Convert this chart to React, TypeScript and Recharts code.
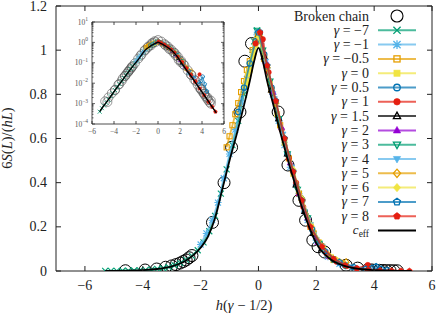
import React from "react"
import { ComposedChart, Scatter, XAxis, YAxis, ReferenceArea, Legend } from "recharts"

type Pt = [number, number]

// axis ticks
const xTicks = [-6, -4, -2, 0, 2, 4, 6]
const yTicks = [0, 0.2, 0.4, 0.6, 0.8, 1, 1.2]
const insetXTicks = [-6, -4, -2, 0, 2, 4, 6]
const insetDecades = [1e-4, 1e-3, 1e-2, 1e-1, 1, 10]
const insetExponents = ["−4", "−3", "−2", "−1", "0", "1"]
const minorSteps = [2, 3, 4, 5, 6, 7, 8, 9]

const gammaLabels = ["−7", "−1", "−0.5", "0", "0.5", "1", "1.5", "2", "3", "4", "5", "6", "7", "8"]

// broken chain points (open circles)
const brokenChain: Pt[] = [
  [-4.6, 0.0012], [-3.92, 0.0045], [-3.52, 0.009], [-3.21, 0.017], [-3.0, 0.023], [-2.85, 0.029],
  [-2.71, 0.036], [-2.6, 0.043], [-2.5, 0.05], [-2.4, 0.06], [-2.3, 0.07], [-1.59, 0.22],
  [-1.19, 0.4], [-0.93, 0.56], [-0.64, 0.72], [-0.47, 0.95], [-0.24, 1.03], [0.68, 0.72],
  [1.02, 0.48], [1.4, 0.32], [1.63, 0.23], [1.88, 0.14], [2.06, 0.11], [2.29, 0.086],
  [3.03, 0.026], [3.43, 0.013], [3.78, 0.006], [3.92, 0.0048], [4.05, 0.0038], [4.18, 0.003],
  [4.3, 0.0024], [4.42, 0.0019], [4.55, 0.0015], [4.68, 0.0012], [4.8, 0.001],
]

// extra broken chain sizes only shown in the log inset
const insetChain: Pt[] = [
  [-4.8, 0.0013], [-4.5, 0.002], [-4.2, 0.0032], [-3.9, 0.0048], [-3.6, 0.0085], [-3.3, 0.013],
  [-3.0, 0.022], [-2.7, 0.037], [-2.4, 0.06], [-2.1, 0.095], [-1.8, 0.16], [-1.5, 0.26],
  [-1.2, 0.42], [-0.9, 0.62], [-0.6, 0.88], [-0.3, 1.15], [0.0, 1.3], [0.3, 1.1], [0.6, 0.82],
  [0.9, 0.62], [1.2, 0.44], [1.5, 0.31], [1.8, 0.2], [2.1, 0.125], [2.4, 0.075], [2.7, 0.043],
  [3.0, 0.026], [3.3, 0.015], [3.6, 0.0085], [3.9, 0.0052], [4.2, 0.0031], [4.5, 0.002],
  [4.8, 0.0014],
]

// effective central charge curve
const cEff: Pt[] = [
  [-5.3, 0.0004], [-5, 0.0007], [-4.5, 0.0016], [-4, 0.0038], [-3.5, 0.009], [-3, 0.021],
  [-2.5, 0.048], [-2, 0.105], [-1.75, 0.155], [-1.5, 0.24], [-1.25, 0.37], [-1, 0.5],
  [-0.75, 0.62], [-0.5, 0.75], [-0.3, 0.86], [-0.15, 0.95], [0, 1.01], [0.15, 0.95],
  [0.3, 0.86], [0.5, 0.76], [0.75, 0.63], [1, 0.51], [1.25, 0.4], [1.5, 0.29], [1.75, 0.2],
  [2, 0.125], [2.5, 0.052], [3, 0.022], [3.5, 0.009], [4, 0.0037], [4.5, 0.0015], [5, 0.0006],
  [5.3, 0.00035],
]

const gM7: Pt[] = [
  [-5.3, 0.0004], [-5.1, 0.0006], [-4.9, 0.0008], [-4.7, 0.0011], [-4.5, 0.0016], [-4.3, 0.0023],
  [-4.1, 0.0032], [-3.9, 0.0046], [-3.7, 0.0065], [-3.5, 0.0092], [-3.3, 0.013], [-3.1, 0.018],
  [-2.9, 0.026], [-2.7, 0.036], [-2.5, 0.05], [-2.3, 0.068], [-2.1, 0.094], [-1.9, 0.13],
  [-1.7, 0.18], [-1.5, 0.25], [-1.3, 0.35], [-1.1, 0.46], [-0.9, 0.57], [-0.7, 0.68],
  [-0.5, 0.8], [-0.3, 0.93], [-0.15, 1.04], [-0.05, 1.09],
]
const gM1: Pt[] = [
  [-2.0, 0.12], [-1.8, 0.17], [-1.6, 0.23], [-1.4, 0.31], [-1.2, 0.42], [-1.0, 0.53], [-0.8, 0.64],
  [-0.6, 0.76], [-0.4, 0.87], [-0.2, 0.99], [-0.05, 1.07], [0.1, 1.04], [0.3, 0.92], [0.5, 0.8],
  [0.7, 0.68], [0.9, 0.57], [1.1, 0.47], [1.4, 0.35], [1.7, 0.23], [2.0, 0.14], [2.4, 0.065],
  [2.8, 0.032],
]
const gM05: Pt[] = [
  [-1.1, 0.56], [-1.0, 0.61], [-0.9, 0.66], [-0.8, 0.71], [-0.7, 0.76], [-0.6, 0.81], [-0.5, 0.86],
  [-0.4, 0.91], [-0.3, 0.95], [-0.2, 1.0], [-0.1, 1.04], [0.0, 1.07], [0.2, 0.96], [0.45, 0.82],
  [0.75, 0.66], [1.05, 0.51], [1.4, 0.35], [1.8, 0.2], [2.2, 0.11], [2.6, 0.05],
]
const g0: Pt[] = [
  [-0.45, 0.84], [-0.4, 0.86], [-0.35, 0.89], [-0.3, 0.91], [-0.25, 0.94], [-0.2, 0.97],
  [-0.15, 0.99], [-0.1, 1.02], [-0.05, 1.05], [0.05, 1.06], [0.2, 0.97], [0.4, 0.85], [0.65, 0.71],
  [0.9, 0.58], [1.2, 0.44], [1.5, 0.32], [1.8, 0.21], [2.1, 0.13], [2.5, 0.063],
]
const g05: Pt[] = [
  [-0.7, 0.72], [-0.5, 0.83], [-0.3, 0.94], [-0.1, 1.04], [0.05, 1.08], [0.2, 0.98], [0.45, 0.83],
  [0.7, 0.69], [1.0, 0.53], [1.3, 0.39], [1.6, 0.27], [1.9, 0.17], [2.2, 0.105], [2.6, 0.052],
  [3.0, 0.025],
]
const g1: Pt[] = [
  [-0.1, 1.03], [0.05, 1.08], [0.15, 1.05], [0.35, 0.9], [0.55, 0.78], [0.8, 0.64], [1.05, 0.51],
  [1.3, 0.4], [1.55, 0.29], [1.8, 0.2], [2.05, 0.135], [2.35, 0.08], [2.7, 0.042], [3.05, 0.022],
  [3.4, 0.012], [3.78, 0.027],
]
const g15: Pt[] = [
  [0.0, 1.07], [0.2, 0.97], [0.45, 0.82], [0.7, 0.69], [1.0, 0.53], [1.3, 0.39], [1.6, 0.27],
  [1.9, 0.17], [2.2, 0.1],
]
const g2: Pt[] = [
  [0.0, 1.08], [0.25, 0.95], [0.5, 0.81], [0.8, 0.65], [1.1, 0.49], [1.4, 0.35], [1.7, 0.24],
  [2.05, 0.13], [2.45, 0.065],
]
const g3: Pt[] = [
  [-0.05, 1.09], [0.15, 1.0], [0.4, 0.86], [0.7, 0.69], [1.0, 0.53], [1.35, 0.37], [1.7, 0.24],
  [2.1, 0.125], [2.55, 0.055], [3.0, 0.026],
]
const g4: Pt[] = [
  [0.0, 1.08], [0.25, 0.95], [0.55, 0.78], [0.85, 0.62], [1.15, 0.47], [1.45, 0.33], [1.8, 0.21],
  [2.2, 0.11], [2.7, 0.046], [3.2, 0.019],
]
const g5: Pt[] = [
  [0.0, 1.07], [0.3, 0.92], [0.6, 0.76], [0.9, 0.6], [1.2, 0.45], [1.5, 0.32], [1.9, 0.18],
  [2.4, 0.075], [3.03, 0.04],
]
const g6: Pt[] = [
  [0.0, 1.06], [0.3, 0.93], [0.6, 0.77], [0.9, 0.6], [1.2, 0.46], [1.5, 0.33], [1.85, 0.2],
  [2.25, 0.105], [2.7, 0.05],
]
const g7: Pt[] = [
  [0.0, 1.08], [0.3, 0.93], [0.6, 0.77], [0.9, 0.6], [1.2, 0.45], [1.5, 0.32], [1.85, 0.19],
  [2.3, 0.09], [2.8, 0.04], [3.3, 0.017], [3.7, 0.009], [3.92, 0.013], [4.07, 0.021], [4.25, 0.009],
  [4.45, 0.004],
]
const g8: Pt[] = [
  [0.05, 1.08], [0.3, 0.93], [0.6, 0.77], [0.9, 0.6], [1.2, 0.45], [1.5, 0.32], [1.8, 0.2],
  [2.2, 0.11], [2.6, 0.055], [3.0, 0.026], [3.4, 0.012], [3.8, 0.0055], [4.2, 0.0026], [4.6, 0.0012],
  [4.93, 0.0007], [5.22, 0.0004],
]

const GREEN = "#009e73"
const SKY = "#56b4e9"
const ORANGE = "#e69f00"
const YELLOW = "#f0e442"
const BLUE = "#0072b2"
const RED = "#e51e10"
const BLACK = "#000000"
const PURPLE = "#9400d3"

const gammaColors = [GREEN, SKY, ORANGE, YELLOW, BLUE, RED, BLACK, PURPLE, GREEN, SKY, ORANGE, YELLOW, BLUE, RED]
const gammaMarkers = ["cross", "star", "sqo", "sqf", "cio", "cif", "tro", "trf", "tdo", "tdf", "dio", "dif", "peo", "pef"]
const gammaData = [gM7, gM1, gM05, g0, g05, g1, g15, g2, g3, g4, g5, g6, g7, g8]

const toPts = (a: Pt[]) => a.map(([x, y]) => ({ x, y }))

const series = gammaLabels.map((label, i) => ({
  label,
  color: gammaColors[i],
  marker: gammaMarkers[i],
  data: toPts(gammaData[i]),
}))
const chainPts = toPts(brokenChain)
const insetChainPts = toPts([...insetChain, ...brokenChain])
const cEffPts = toPts(cEff)

const FONT = "Liberation Serif, Times New Roman, DejaVu Serif, serif"
const INK = "#222"
const txt = { fontFamily: FONT }

// plot box of the main chart, in svg pixels
const MAIN = { left: 56, right: 432, top: 6, bottom: 271 }
// plot box of the inset, in its own svg pixels
const INS = { left: 32, right: 164, top: 7, bottom: 109 }

const minus = (v: number) => (v < 0 ? "−" + Math.abs(v) : String(v))

function Marker({ kind, cx, cy, color, s, sw }: { kind: string; cx: number; cy: number; color: string; s: number; sw: number }) {
  if (cx == null || cy == null) return <g />
  const open = { fill: "none", stroke: color, strokeWidth: sw }
  const solid = { fill: color, stroke: color, strokeWidth: sw * 0.5 }
  const style = kind.endsWith("f") ? solid : open
  switch (kind) {
    case "cross":
      return <path d={`M${cx - s},${cy - s}L${cx + s},${cy + s}M${cx - s},${cy + s}L${cx + s},${cy - s}`} stroke={color} strokeWidth={sw} />
    case "star":
      return (
        <path
          d={`M${cx - s},${cy - s}L${cx + s},${cy + s}M${cx - s},${cy + s}L${cx + s},${cy - s}M${cx - s * 1.2},${cy}L${cx + s * 1.2},${cy}M${cx},${cy - s * 1.2}L${cx},${cy + s * 1.2}`}
          stroke={color}
          strokeWidth={sw}
        />
      )
    case "sqo":
    case "sqf": {
      const h = s * 0.85
      return <rect x={cx - h} y={cy - h} width={2 * h} height={2 * h} {...style} />
    }
    case "cio":
    case "cif":
      return <circle cx={cx} cy={cy} r={s * 0.9} {...style} />
    case "tro":
    case "trf":
      return <polygon points={`${cx},${cy - s * 1.1} ${cx + s},${cy + s * 0.7} ${cx - s},${cy + s * 0.7}`} {...style} />
    case "tdo":
    case "tdf":
      return <polygon points={`${cx},${cy + s * 1.1} ${cx + s},${cy - s * 0.7} ${cx - s},${cy - s * 0.7}`} {...style} />
    case "dio":
    case "dif":
      return <polygon points={`${cx},${cy - s * 1.15} ${cx + s},${cy} ${cx},${cy + s * 1.15} ${cx - s},${cy}`} {...style} />
    case "peo":
    case "pef": {
      const pts = [0, 1, 2, 3, 4]
        .map((k) => {
          const a = ((-90 + 72 * k) * Math.PI) / 180
          return `${cx + s * Math.cos(a)},${cy + s * Math.sin(a)}`
        })
        .join(" ")
      return <polygon points={pts} {...style} />
    }
    case "ring":
      return <circle cx={cx} cy={cy} r={s} fill="none" stroke={color} strokeWidth={sw} />
    default:
      return <g />
  }
}

function mainXTick(props: any) {
  const { x, payload } = props
  return (
    <g>
      <line x1={x} y1={MAIN.bottom} x2={x} y2={MAIN.bottom - 5} stroke={INK} />
      <line x1={x} y1={MAIN.top} x2={x} y2={MAIN.top + 5} stroke={INK} />
      <text x={x} y={MAIN.bottom + 18.5} textAnchor="middle" style={txt} fontSize={14} fill={INK}>
        {minus(payload.value)}
      </text>
    </g>
  )
}

function mainYTick(props: any) {
  const { y, payload } = props
  return (
    <g>
      <line x1={MAIN.left} y1={y} x2={MAIN.left + 5} y2={y} stroke={INK} />
      <line x1={MAIN.right} y1={y} x2={MAIN.right - 5} y2={y} stroke={INK} />
      <text x={MAIN.left - 9} y={y + 4.5} textAnchor="end" style={txt} fontSize={14} fill={INK}>
        {String(payload.value)}
      </text>
    </g>
  )
}

function insetXTick(props: any) {
  const { x, payload } = props
  return (
    <g>
      <line x1={x} y1={INS.bottom} x2={x} y2={INS.bottom - 3} stroke={INK} strokeWidth={0.8} />
      <line x1={x} y1={INS.top} x2={x} y2={INS.top + 3} stroke={INK} strokeWidth={0.8} />
      <text x={x} y={INS.bottom + 10} textAnchor="middle" style={txt} fontSize={7.5} fill="#555">
        {minus(payload.value)}
      </text>
    </g>
  )
}

function insetYTick(props: any) {
  const { y, payload } = props
  const idx = insetDecades.indexOf(payload.value)
  const len = idx >= 0 ? 3 : 1.5
  return (
    <g>
      <line x1={INS.left} y1={y} x2={INS.left + len} y2={y} stroke={INK} strokeWidth={0.7} />
      <line x1={INS.right} y1={y} x2={INS.right - len} y2={y} stroke={INK} strokeWidth={0.7} />
      {idx >= 0 && (
        <text x={INS.left - 4} y={y + 2.5} textAnchor="end" style={txt} fontSize={7.5} fill="#555">
          10
          <tspan dy={-3.5} fontSize={5.5}>
            {insetExponents[idx]}
          </tspan>
        </text>
      )}
    </g>
  )
}

const insetYTicks = insetDecades.flatMap((d, i) => (i < insetDecades.length - 1 ? [d, ...minorSteps.map((m) => d * m)] : [d]))

function xLabel() {
  return (
    <text x={244} y={310} textAnchor="middle" style={txt} fontSize={14.5} fill={INK}>
      <tspan fontStyle="italic">h</tspan>(<tspan fontStyle="italic">γ</tspan> − 1/2)
    </text>
  )
}

function yLabel() {
  return (
    <text x={12} y={138} transform="rotate(-90 12 138)" textAnchor="middle" style={txt} fontSize={14.5} fill={INK}>
      6<tspan fontStyle="italic">S</tspan>(<tspan fontStyle="italic">L</tspan>)/(<tspan fontStyle="italic">hL</tspan>)
    </text>
  )
}

function LegendBox() {
  const rowY = (i: number) => 16 + i * 14.3
  const tx = 369
  return (
    <svg width={436} height={314} style={{ display: "block", pointerEvents: "none" }}>
      <g style={txt} fontSize={14} fill={INK}>
        <text x={tx} y={rowY(0) + 4.5} textAnchor="end">
          Broken chain
        </text>
        <Marker kind="ring" cx={397} cy={rowY(0)} color="#000" s={6} sw={1.1} />
        {series.map((s, i) => (
          <g key={s.label}>
            <text x={tx} y={rowY(i + 1) + 4.5} textAnchor="end">
              <tspan fontStyle="italic">γ</tspan> = {s.label}
            </text>
            <line x1={378} y1={rowY(i + 1)} x2={416} y2={rowY(i + 1)} stroke={s.color} strokeWidth={2} strokeOpacity={0.7} />
            <Marker kind={s.marker} cx={397} cy={rowY(i + 1)} color={s.color} s={3.6} sw={1.3} />
          </g>
        ))}
        <text x={tx} y={rowY(15) + 3.5} textAnchor="end" fontSize={13}>
          <tspan fontStyle="italic">c</tspan>
          <tspan fontSize={9.5} dy={2.5}>
            eff
          </tspan>
        </text>
        <line x1={378} y1={rowY(15)} x2={416} y2={rowY(15)} stroke="#000" strokeWidth={2} />
      </g>
    </svg>
  )
}

export default function App() {
  return (
    <div style={{ position: "absolute", left: 0, top: 0, width: 436, height: 314, background: "#fff" }}>
      <ComposedChart width={436} height={314} margin={{ top: 6, right: 4, bottom: 0, left: 0 }}>
        <XAxis
          type="number"
          dataKey="x"
          domain={[-7, 6]}
          ticks={xTicks}
          interval={0}
          height={43}
          tickSize={0}
          tickMargin={0}
          axisLine={false}
          tickLine={false}
          tick={mainXTick}
          label={xLabel}
          allowDataOverflow
        />
        <YAxis
          type="number"
          dataKey="y"
          domain={[0, 1.2]}
          ticks={yTicks}
          interval={0}
          width={56}
          tickSize={0}
          tickMargin={0}
          axisLine={false}
          tickLine={false}
          tick={mainYTick}
          label={yLabel}
          allowDataOverflow
        />
        <ReferenceArea x1={-7} x2={6} y1={0} y2={1.2} fill="none" stroke={INK} strokeWidth={1} />
        <Scatter
          data={chainPts}
          isAnimationActive={false}
          shape={(p: any) => <Marker kind="ring" cx={p.cx} cy={p.cy} color="#000" s={6} sw={1} />}
        />
        {series.map((s) => (
          <Scatter
            key={s.label}
            data={s.data}
            line={{ stroke: s.color, strokeWidth: 1.8, strokeOpacity: 0.7 }}
            isAnimationActive={false}
            shape={(p: any) => <Marker kind={s.marker} cx={p.cx} cy={p.cy} color={s.color} s={3} sw={1.1} />}
          />
        ))}
        <Scatter
          data={cEffPts}
          line={{ stroke: "#000", strokeWidth: 1.8 }}
          lineJointType="monotoneX"
          isAnimationActive={false}
          shape={() => <g />}
        />
        <Legend
          layout="vertical"
          align="center"
          verticalAlign="middle"
          wrapperStyle={{ left: 0, top: 0, width: 436, height: 314, pointerEvents: "none" }}
          content={() => <LegendBox />}
        />
      </ComposedChart>

      <div style={{ position: "absolute", left: 60, top: 15 }}>
        <ComposedChart width={168} height={125} margin={{ top: 7, right: 4, bottom: 0, left: 0 }}>
          <XAxis
            type="number"
            dataKey="x"
            domain={[-6, 6]}
            ticks={insetXTicks}
            interval={0}
            height={16}
            tickSize={0}
            tickMargin={0}
            axisLine={false}
            tickLine={false}
            tick={insetXTick}
            allowDataOverflow
          />
          <YAxis
            type="number"
            dataKey="y"
            scale="log"
            domain={[1e-4, 10]}
            ticks={insetYTicks}
            interval={0}
            width={32}
            tickSize={0}
            tickMargin={0}
            axisLine={false}
            tickLine={false}
            tick={insetYTick}
            allowDataOverflow
          />
          <ReferenceArea x1={-6} x2={6} y1={1e-4} y2={10} fill="none" stroke={INK} strokeWidth={0.8} />
          <Scatter
            data={insetChainPts}
            isAnimationActive={false}
            shape={(p: any) => <Marker kind="ring" cx={p.cx} cy={p.cy} color="#555" s={4.5} sw={0.6} />}
          />
          {series.map((s) => (
            <Scatter
              key={s.label}
              data={s.data}
              line={{ stroke: s.color, strokeWidth: 1, strokeOpacity: 0.7 }}
              isAnimationActive={false}
              shape={(p: any) => <Marker kind={s.marker} cx={p.cx} cy={p.cy} color={s.color} s={2} sw={0.8} />}
            />
          ))}
          <Scatter
            data={cEffPts}
            line={{ stroke: "#000", strokeWidth: 1.4 }}
            lineJointType="monotoneX"
            isAnimationActive={false}
            shape={() => <g />}
          />
        </ComposedChart>
      </div>
    </div>
  )
}
